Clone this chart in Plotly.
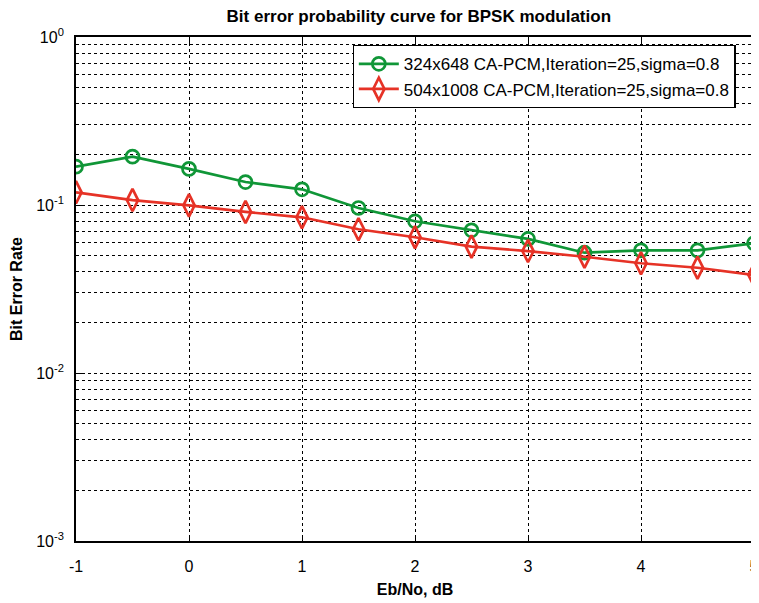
import plotly.graph_objects as go

ebno = [-1, -0.5, 0, 0.5, 1, 1.5, 2, 2.5, 3, 3.5, 4, 4.5, 5]
ber_324 = [0.169, 0.194, 0.164, 0.137, 0.124, 0.096, 0.080, 0.0707, 0.0628, 0.052, 0.0537, 0.0537, 0.0592]
ber_504 = [0.119, 0.107, 0.0995, 0.0909, 0.0845, 0.0717, 0.0643, 0.0565, 0.0532, 0.0492, 0.045, 0.0423, 0.0383]
name_324 = "324x648 CA-PCM,Iteration=25,sigma=0.8"
name_504 = "504x1008 CA-PCM,Iteration=25,sigma=0.8"
x_ticks = [-1, 0, 1, 2, 3, 4, 5]
y_ticks = [1e-3, 1e-2, 1e-1, 1]
y_ticktext = ["10<sup>-3</sup>", "10<sup>-2</sup>", "10<sup>-1</sup>", "10<sup>0</sup>"]
y_minor = [m * 10.0 ** e for e in (-3, -2, -1) for m in range(2, 10)]

GREEN = "rgb(16,150,55)"
RED = "rgb(230,50,38)"
FONT = "Liberation Sans, Arial, sans-serif"

fig = go.Figure()
fig.add_trace(go.Scatter(
    x=ebno, y=ber_324, name=name_324, mode="lines+markers",
    line=dict(color=GREEN, width=2.7),
    marker=dict(symbol="circle-open", size=13, color=GREEN, line=dict(width=2.7, color=GREEN)),
))
fig.add_trace(go.Scatter(
    x=ebno, y=ber_504, name=name_504, mode="lines+markers",
    line=dict(color=RED, width=2.7),
    marker=dict(symbol="diamond-tall-open", size=16, color=RED, line=dict(width=2.7, color=RED)),
))

# page body has an 8px margin, so the figure is shifted by 8px
fig.update_layout(
    width=751, height=595,
    margin=dict(l=68, r=5, t=29, b=62, autoexpand=False),
    paper_bgcolor="white", plot_bgcolor="white",
    font=dict(family=FONT, size=16, color="black"),
    title=dict(text="<b>Bit error probability curve for BPSK modulation</b>",
               x=0.547, xanchor="center", y=0.986, yanchor="middle",
               font=dict(size=17, family=FONT, color="black")),
    showlegend=True,
    legend=dict(x=0.408, y=0.984, xanchor="left", yanchor="top",
                bgcolor="white", bordercolor="black", borderwidth=1.2,
                font=dict(size=17, family=FONT), itemwidth=40),
)

fig.update_xaxes(
    range=[-1, 5], tickvals=x_ticks, ticktext=[str(v) for v in x_ticks],
    showline=True, linecolor="black", linewidth=1.8, mirror="ticks",
    ticks="inside", ticklen=6, tickcolor="black",
    showgrid=True, gridcolor="black", griddash="dot", gridwidth=1,
    zeroline=False, automargin=False, ticklabelstandoff=10,
    ticklabeloverflow="allow",
    title=dict(text="<b>Eb/No, dB</b>", font=dict(size=16, family=FONT), standoff=10),
    tickfont=dict(size=16, family=FONT),
)
fig.update_yaxes(
    type="log", range=[-3, 0], tickvals=y_ticks, ticktext=y_ticktext,
    showline=True, linecolor="black", linewidth=1.8, mirror="ticks",
    ticks="inside", ticklen=6, tickcolor="black",
    showgrid=True, gridcolor="black", griddash="dot", gridwidth=1,
    zeroline=False, automargin=False, ticklabelstandoff=7,
    minor=dict(tickvals=y_minor, showgrid=True, gridcolor="black", griddash="dot", gridwidth=1,
               ticks="inside", ticklen=3, tickcolor="black"),
    title=dict(text="<b>Bit Error Rate</b>", font=dict(size=16, family=FONT), standoff=11),
    tickfont=dict(size=16, family=FONT),
)

fig.write_html("out.html")
